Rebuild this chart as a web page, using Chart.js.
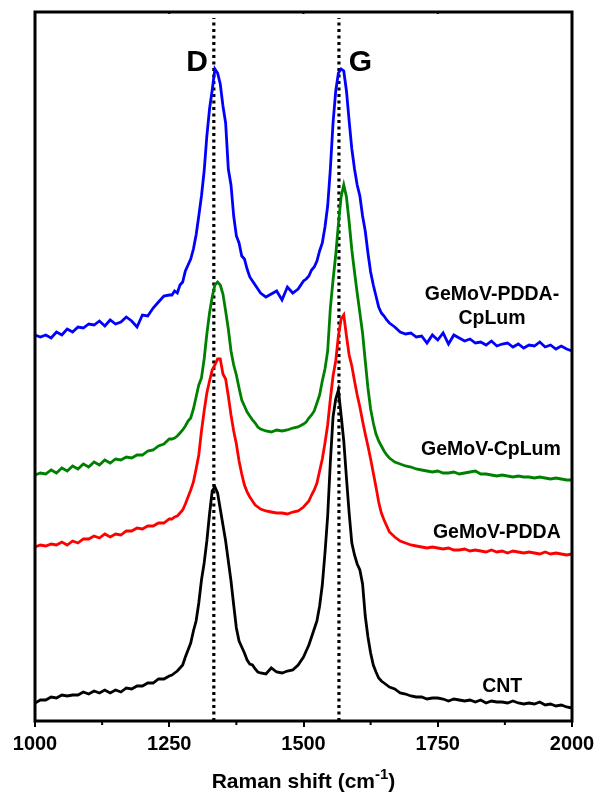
<!DOCTYPE html>
<html>
<head>
<meta charset="utf-8">
<script src="https://cdn.jsdelivr.net/npm/chart.js@4.4.0/dist/chart.umd.min.js"></script>
<style>
  html, body { margin: 0; padding: 0; background: #fff; }
  canvas { display: block; }
</style>
</head>
<body>
<canvas id="raman" width="600" height="799"></canvas>
<script>
// Raman spectra, offset for clarity (intensity in arbitrary units)
const wavenumber = [
  1000,1010,1020,1030,1040,1050,1060,1070,1080,1090,1100,1110,1120,1130,1140,1150,1160,1170,1180,1190,1200,1210,1220,1230,1240,1250,
  1255,1260,1265,1270,1275,1280,1285,1290,1295,1300,1305,1310,1315,1320,1325,1330,1335,1340,1345,1350,1355,1360,1365,1370,1375,1380,1385,1390,1395,1400,1405,1410,1415,1420,
  1430,1440,1450,1460,1470,1480,1490,1500,
  1505,1510,1515,1520,1525,1530,1535,1540,1545,1550,1555,1560,1565,1570,1575,1580,1585,1590,1595,1600,1605,1610,1615,1620,1625,1630,1635,1640,1645,1650,1655,1660,
  1670,1680,1690,1700,1710,1720,1730,1740,1750,1760,1770,1780,1790,1800,1810,1820,1830,1840,1850,1860,1870,1880,1890,1900,1910,1920,1930,1940,1950,1960,1970,1980,1990,2000
];

const pddaCpLum = [
  386,384,386,383,389,386,392,389,394,393,397,396,400,395,401,397,399,404,400,394,406,405,413,419,425,426,
  426,430,428,436,439,450,456,462,472,486,505,525,550,585,612,631,652,648,637,615,598,552,536,505,485,478,465,462,452,444,440,436,432,428,
  424,427,430,421,434,428,432,440,
  442,445,451,454,460,470,478,494,515,552,598,630,648,652,650,630,600,572,552,536,525,505,490,468,449,436,425,414,408,405,401,398,
  394,389,387,388,384,385,378,386,381,388,377,386,383,380,382,378,379,376,380,375,377,378,374,377,373,376,375,379,374,376,372,375,372,370
];

const cpLum = [
  246,248,247,251,248,253,250,255,252,257,254,259,256,261,258,262,261,264,263,266,266,270,271,275,277,282,
  282,283,285,288,291,295,300,303,312,324,336,343,362,387,408,424,436,439,436,427,410,392,370,356,346,333,321,315,309,305,301,298,294,292,
  290,289,291,290,291,293,294,297,
  299,303,306,310,318,326,340,352,370,413,441,466,497,524,536,524,499,471,449,428,408,388,360,333,312,298,287,280,275,270,266,263,
  259,257,255,254,252,251,250,249,250,248,248,249,247,248,249,250,247,247,246,245,246,245,244,245,244,244,243,244,243,242,243,242,241,241
];

const pdda = [
  174,176,175,177,176,179,176,180,178,182,182,185,183,187,184,187,186,190,190,193,192,195,195,198,198,202,
  202,204,205,208,211,217,224,231,239,252,266,290,310,328,340,351,356,362,362,347,342,325,306,290,277,260,247,236,229,224,220,216,214,212,
  210,209,208,208,207,209,210,214,
  217,220,226,231,238,250,262,278,296,322,345,360,385,402,406,385,366,355,340,326,314,300,287,275,262,248,234,219,208,201,195,189,
  184,180,178,176,175,174,173,174,173,172,173,171,171,172,170,171,170,169,171,169,170,168,170,169,168,169,168,167,169,167,168,167,166,167
];

const cnt = [
  18,21,21,24,23,26,25,26,26,29,27,30,28,31,28,31,29,33,32,35,35,38,38,42,42,45,
  46,48,50,53,56,64,71,78,90,100,118,141,158,180,207,230,234,228,212,196,180,160,140,116,93,80,74,68,61,57,56,52,49,48,
  47,53,49,48,50,51,56,64,
  70,76,84,92,100,115,136,168,205,259,304,322,331,306,280,243,208,178,166,157,151,137,105,84,68,56,49,43,40,38,36,34,
  32,28,27,25,24,24,22,23,23,22,20,22,21,20,21,19,21,18,20,19,19,18,20,18,17,18,17,19,16,17,15,16,14,13
];

const seriesNames = ['CNT', 'GeMoV-PDDA', 'GeMoV-CpLum', 'GeMoV-PDDA-CpLum'];
const seriesColors = ['#000000', '#ff0000', '#008000', '#0000ff'];
const bandPositions = [1333, 1566];   // D and G marker lines
const bandNames = ['D', 'G'];
const xTicks = [1000, 1250, 1500, 1750, 2000];
const xMinorTicks = [1125, 1375, 1625, 1875];

const FONT = "'Liberation Sans', Arial, sans-serif";

function toPoints(ys) {
  return ys.map((v, i) => ({ x: wavenumber[i], y: v }));
}

const spectra = [cnt, pdda, cpLum, pddaCpLum].map((ys, i) => ({
  label: seriesNames[i],
  data: toPoints(ys),
  borderColor: seriesColors[i],
  borderWidth: 2.8,
  pointRadius: 0,
  tension: 0,
  fill: false
}));

const bandLines = bandPositions.map(b => ({
  label: 'band ' + b,
  data: [{ x: b, y: 0 }, { x: b, y: 703 }],
  borderColor: '#000',
  borderWidth: 3.2,
  borderDash: [3, 3.5],
  pointRadius: 0,
  fill: false
}));

// frame, minor ticks, annotations and axis title
const decorations = {
  id: 'decorations',
  afterDatasetsDraw(chart) {
    const { ctx, chartArea: a, scales: { x, y } } = chart;
    ctx.save();
    ctx.strokeStyle = '#000';
    ctx.lineWidth = 3;
    ctx.strokeRect(a.left, a.top, a.right - a.left, a.bottom - a.top);

    ctx.lineWidth = 2;
    xMinorTicks.forEach(v => {
      const px = x.getPixelForValue(v);
      ctx.beginPath(); ctx.moveTo(px, a.bottom); ctx.lineTo(px, a.bottom + 4); ctx.stroke();
    });
    xTicks.slice(1, -1).forEach(v => {
      const px = x.getPixelForValue(v);
      ctx.beginPath(); ctx.moveTo(px, a.top); ctx.lineTo(px, a.top + 2); ctx.stroke();
    });

    ctx.fillStyle = '#000';
    ctx.textAlign = 'center';
    ctx.textBaseline = 'alphabetic';

    // band letters
    ctx.font = 'bold 30px ' + FONT;
    ctx.fillText(bandNames[0], x.getPixelForValue(1302), y.getPixelForValue(650));
    ctx.fillText(bandNames[1], x.getPixelForValue(1606), y.getPixelForValue(650));

    // series labels
    ctx.font = 'bold 19.5px ' + FONT;
    ctx.fillText('GeMoV-PDDA-', x.getPixelForValue(1851), y.getPixelForValue(421));
    ctx.fillText('CpLum', x.getPixelForValue(1851), y.getPixelForValue(397));
    ctx.fillText(seriesNames[2], x.getPixelForValue(1849), y.getPixelForValue(266));
    ctx.fillText(seriesNames[1], x.getPixelForValue(1860), y.getPixelForValue(183));
    ctx.fillText(seriesNames[0], x.getPixelForValue(1870), y.getPixelForValue(29));

    // x axis title with superscript
    const main = 'Raman shift (cm', sup = '-1', tail = ')';
    ctx.font = 'bold 21px ' + FONT;
    const wMain = ctx.measureText(main).width, wTail = ctx.measureText(tail).width;
    ctx.font = 'bold 15px ' + FONT;
    const wSup = ctx.measureText(sup).width;
    let tx = (a.left + a.right) / 2 - (wMain + wSup + wTail) / 2;
    const ty = 788;
    ctx.textAlign = 'left';
    ctx.font = 'bold 21px ' + FONT;
    ctx.fillText(main, tx, ty); tx += wMain;
    ctx.font = 'bold 15px ' + FONT;
    ctx.fillText(sup, tx, ty - 9); tx += wSup;
    ctx.font = 'bold 21px ' + FONT;
    ctx.fillText(tail, tx, ty);
    ctx.restore();
  }
};

new Chart(document.getElementById('raman'), {
  type: 'line',
  data: { datasets: [...spectra, ...bandLines] },
  options: {
    responsive: false,
    animation: false,
    devicePixelRatio: 1,
    layout: { padding: { left: 35, right: 28, top: 12, bottom: 0 } },
    plugins: { legend: { display: false }, tooltip: { enabled: false } },
    scales: {
      x: {
        type: 'linear',
        min: 1000,
        max: 2000,
        afterBuildTicks: s => { s.ticks = xTicks.map(v => ({ value: v })); },
        afterFit: s => { s.height = 78; },
        border: { display: false },
        grid: { drawOnChartArea: false, drawTicks: true, tickLength: 6, color: '#000', lineWidth: 2 },
        ticks: {
          color: '#000', padding: 5, maxRotation: 0,
          font: { family: FONT, size: 20, weight: 'bold' },
          callback: v => String(v)
        }
      },
      y: {
        display: false,
        min: 0,
        max: 709
      }
    }
  },
  plugins: [decorations]
});
</script>
</body>
</html>
